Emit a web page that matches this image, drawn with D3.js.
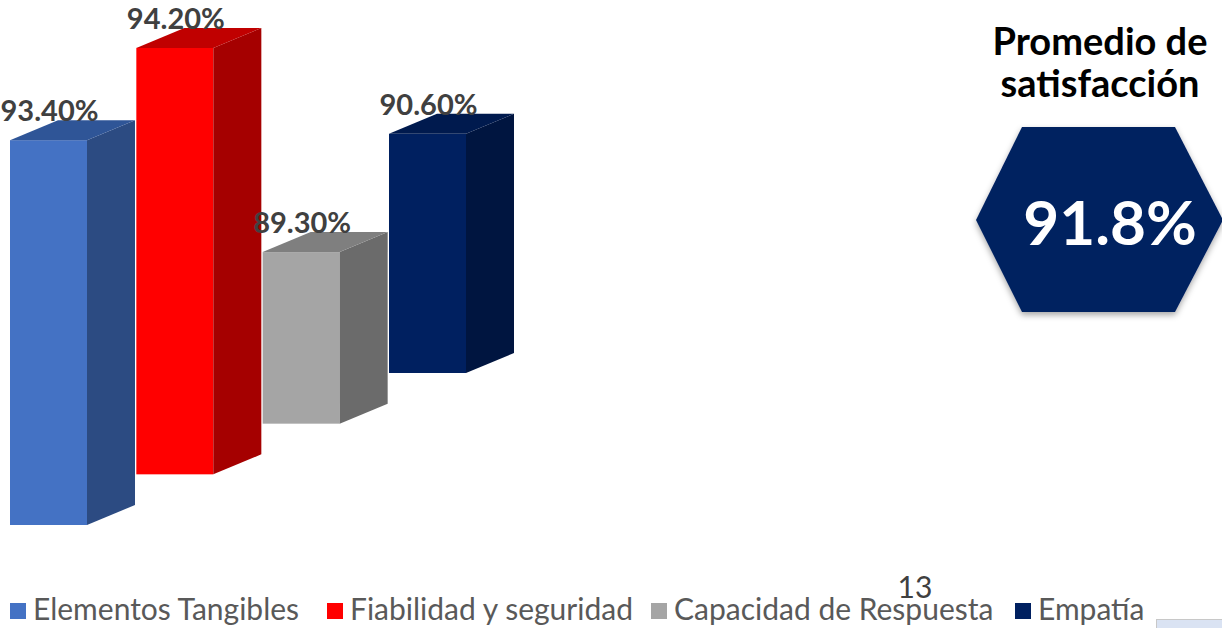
<!DOCTYPE html>
<html>
<head>
<meta charset="utf-8">
<script src="https://cdn.jsdelivr.net/npm/d3@7"></script>
<style>
  html, body { margin: 0; padding: 0; background: #fff; }
  svg { display: block; }
</style>
</head>
<body>
<div id="chart"></div>
<script>
const width = 1222;
const height = 628;

// データ
const categories = ["Elementos Tangibles", "Fiabilidad y seguridad", "Capacidad de Respuesta", "Empatía"];
const values = [93.4, 94.2, 89.3, 90.6];
const labels = ["93.40%", "94.20%", "89.30%", "90.60%"];
const average = "91.8%";
const pageNumber = "13";

// 色 (前面, 側面, 上面)
const colors = {
  "Elementos Tangibles":    { front: "#4472c4", side: "#2c4b82", top: "#2f5597" },
  "Fiabilidad y seguridad": { front: "#ff0000", side: "#a50000", top: "#c00000" },
  "Capacidad de Respuesta": { front: "#a5a5a5", side: "#6b6b6b", top: "#7f7f7f" },
  "Empatía":                { front: "#002060", side: "#001540", top: "#001a4e" }
};

const svg = d3.select("#chart")
  .append("svg")
  .attr("width", width)
  .attr("height", height);

// =====================
// スケール
// =====================
// 棒は斜めにずらして並ぶ（3D 風）
const x = d3.scalePoint()
  .domain(categories)
  .range([10, 389]);

const base = d3.scalePoint()
  .domain(categories)
  .range([525, 373]);

const h = d3.scaleLinear()
  .domain([86, 95])
  .range([0, 468]);

const depthX = 48;
const depthY = 20;
const barW = 77;

// 奥から順に描画
const order = categories.slice().reverse();

order.forEach(cat => {
  const i = categories.indexOf(cat);
  const x0 = x(cat);
  const yb = base(cat);
  const yt = yb - h(values[i]);
  const c = colors[cat];
  const g = svg.append("g");

  // 前面
  g.append("rect")
    .attr("x", x0)
    .attr("y", yt)
    .attr("width", barW)
    .attr("height", yb - yt)
    .attr("fill", c.front);

  // 側面
  g.append("path")
    .attr("d", `M${x0 + barW},${yt} L${x0 + barW + depthX},${yt - depthY} L${x0 + barW + depthX},${yb - depthY} L${x0 + barW},${yb} Z`)
    .attr("fill", c.side);

  // 上面
  g.append("path")
    .attr("d", `M${x0},${yt} L${x0 + depthX},${yt - depthY} L${x0 + barW + depthX},${yt - depthY} L${x0 + barW},${yt} Z`)
    .attr("fill", c.top);
});

// ラベル
categories.forEach((cat, i) => {
  const yt = base(cat) - h(values[i]);
  svg.append("text")
    .attr("x", x(cat) + barW / 2 + 1)
    .attr("y", yt - depthY + 1)
    .attr("text-anchor", "middle")
    .attr("font-family", "Lato, 'Open Sans', sans-serif")
    .attr("font-weight", "bold")
    .attr("font-size", 29)
    .attr("fill", "#404040")
    .text(labels[i]);
});

// =====================
// 凡例
// =====================
const legendX = [10, 327, 651, 1015];
const legend = svg.append("g");
categories.forEach((cat, i) => {
  const lg = legend.append("g")
    .attr("transform", `translate(${legendX[i]}, 603)`);
  lg.append("rect")
    .attr("width", 16)
    .attr("height", 16)
    .attr("fill", colors[cat].front);
  lg.append("text")
    .attr("x", 23)
    .attr("y", 17)
    .attr("font-family", "Lato, 'Open Sans', sans-serif")
    .attr("font-size", 30)
    .attr("fill", "#595959")
    .text(cat);
});

// ページ番号
svg.append("text")
  .attr("x", 915)
  .attr("y", 598)
  .attr("text-anchor", "middle")
  .attr("font-family", "Lato, 'Open Sans', sans-serif")
  .attr("font-size", 30)
  .attr("fill", "#404040")
  .text(pageNumber);

// 右下の小さな枠
svg.append("rect")
  .attr("x", 1156.5)
  .attr("y", 619.5)
  .attr("width", 70)
  .attr("height", 12)
  .attr("fill", "#dae3f3")
  .attr("stroke", "#c8c8c8");

// =====================
// 平均
// =====================
svg.append("text")
  .attr("x", 1100)
  .attr("text-anchor", "middle")
  .attr("font-family", "Lato, 'Open Sans', sans-serif")
  .attr("font-weight", "bold")
  .attr("font-size", 38)
  .attr("fill", "#000")
  .selectAll("tspan")
  .data(["Promedio de", "satisfacción"])
  .join("tspan")
  .attr("x", 1100)
  .attr("y", (d, i) => 55 + i * 42)
  .text(d => d);

const defs = svg.append("defs");
const shadow = defs.append("filter").attr("id", "shadow")
  .attr("x", "-10%").attr("y", "-10%").attr("width", "120%").attr("height", "125%");
shadow.append("feDropShadow")
  .attr("dx", 0).attr("dy", 3).attr("stdDeviation", 3)
  .attr("flood-color", "#000").attr("flood-opacity", 0.35);

const hx = [976, 1022, 1175, 1223, 1175, 1022];
const hy = [220, 127, 127, 220, 312, 312];
svg.append("path")
  .attr("d", d3.line()(hx.map((v, i) => [v, hy[i]])) + "Z")
  .attr("fill", "#002060")
  .attr("filter", "url(#shadow)");

svg.append("text")
  .attr("x", 1110)
  .attr("y", 245)
  .attr("text-anchor", "middle")
  .attr("font-family", "Lato, 'Open Sans', sans-serif")
  .attr("font-weight", "bold")
  .attr("font-size", 62)
  .attr("fill", "#fff")
  .text(average);
</script>
</body>
</html>
